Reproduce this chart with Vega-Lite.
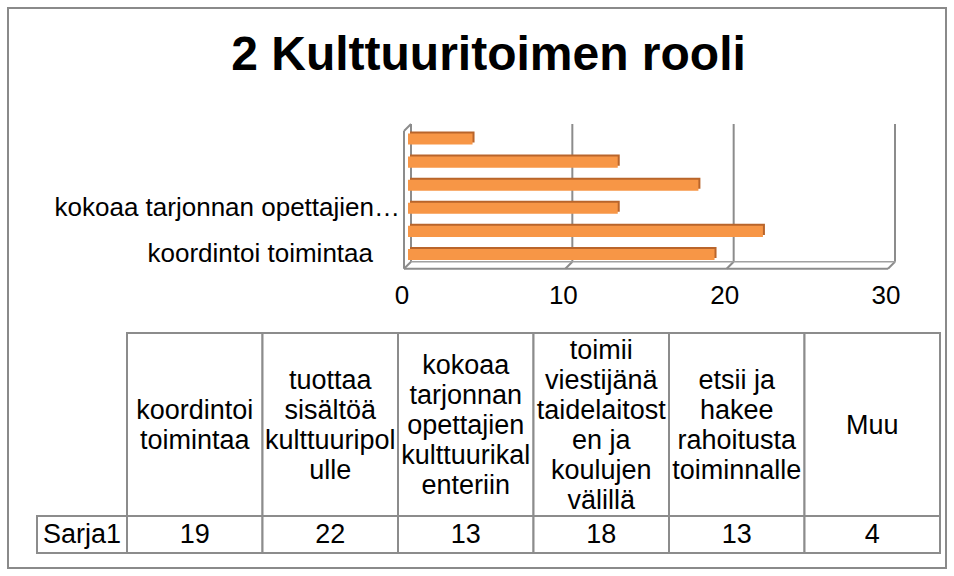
{
  "$schema": "https://vega.github.io/schema/vega-lite/v6.json",
  "width": 954,
  "height": 576,
  "autosize": {"type": "fit", "contains": "padding"},
  "padding": 8,
  "background": "white",
  "config": {
    "view": {"stroke": "#8a8a8a", "strokeWidth": 2},
    "font": "Liberation Sans",
    "text": {"font": "Liberation Sans", "color": "black"}
  },
  "datasets": {
    "roles": [
      {"rooli": "koordintoi toimintaa", "value": 19, "header": "koordintoi\ntoimintaa", "axisLabel": "koordintoi toimintaa"},
      {"rooli": "tuottaa sisältöä kulttuuripolulle", "value": 22, "header": "tuottaa\nsisältöä\nkulttuuripol\nulle", "axisLabel": ""},
      {"rooli": "kokoaa tarjonnan opettajien kulttuurikalenteriin", "value": 13, "header": "kokoaa\ntarjonnan\nopettajien\nkulttuurikal\nenteriin", "axisLabel": "kokoaa tarjonnan opettajien…"},
      {"rooli": "toimii viestijänä taidelaitosten ja koulujen välillä", "value": 18, "header": "toimii\nviestijänä\ntaidelaitost\nen ja\nkoulujen\nvälillä", "axisLabel": ""},
      {"rooli": "etsii ja hakee rahoitusta toiminnalle", "value": 13, "header": "etsii ja\nhakee\nrahoitusta\ntoiminnalle", "axisLabel": ""},
      {"rooli": "Muu", "value": 4, "header": "Muu", "axisLabel": ""}
    ],
    "ticks": [{"tick": 0}, {"tick": 10}, {"tick": 20}, {"tick": 30}],
    "one": [{"title": "2 Kulttuuritoimen rooli", "series": "Sarja1"}]
  },
  "resolve": {"scale": {"x": "independent", "y": "independent", "yOffset": "independent"}},
  "layer": [
    {
      "data": {"name": "one"},
      "mark": {"type": "text", "fontSize": 48, "fontWeight": "bold", "baseline": "middle", "align": "center"},
      "encoding": {
        "text": {"field": "title"},
        "x": {"field": "title", "type": "nominal", "axis": null, "scale": {"type": "band", "domain": ["2 Kulttuuritoimen rooli"], "range": [430, 531]}},
        "y": {"field": "title", "type": "nominal", "axis": null, "scale": {"type": "band", "domain": ["2 Kulttuuritoimen rooli"], "range": [37, 58]}}
      }
    },
    {
      "data": {"name": "ticks"},
      "mark": {"type": "rule", "color": "#8c8c8c", "strokeWidth": 2, "xOffset": 3},
      "encoding": {
        "x": {"field": "tick", "type": "quantitative", "axis": null, "scale": {"domain": [0, 30], "range": [400, 884]}},
        "y": {"datum": 1, "type": "quantitative", "axis": null, "scale": {"domain": [0, 1], "range": [253.7, 116]}},
        "y2": {"datum": 0}
      }
    },
    {
      "data": {"name": "ticks"},
      "mark": {"type": "rule", "color": "#8c8c8c", "strokeWidth": 2, "xOffset": 3, "x2Offset": -4, "y2Offset": 7},
      "encoding": {
        "x": {"field": "tick", "type": "quantitative", "axis": null, "scale": {"domain": [0, 30], "range": [400, 884]}},
        "x2": {"field": "tick"},
        "y": {"datum": 0, "type": "quantitative", "axis": null, "scale": {"domain": [0, 1], "range": [253.7, 116]}},
        "y2": {"datum": 0}
      }
    },
    {
      "data": {"name": "one"},
      "mark": {"type": "rule", "color": "#8c8c8c", "strokeWidth": 2, "xOffset": -4, "x2Offset": -4, "yOffset": 7},
      "encoding": {
        "x": {"datum": 0, "type": "quantitative", "axis": null, "scale": {"domain": [0, 30], "range": [400, 884]}},
        "x2": {"datum": 30},
        "y": {"datum": 0, "type": "quantitative", "axis": null, "scale": {"domain": [0, 1], "range": [253.7, 116]}}
      }
    },
    {
      "data": {"name": "one"},
      "mark": {"type": "rule", "color": "#a0a0a0", "strokeWidth": 1.5, "xOffset": 3, "x2Offset": 3},
      "encoding": {
        "x": {"datum": 0, "type": "quantitative", "axis": null, "scale": {"domain": [0, 30], "range": [400, 884]}},
        "x2": {"datum": 30},
        "y": {"datum": 0, "type": "quantitative", "axis": null, "scale": {"domain": [0, 1], "range": [253.7, 116]}}
      }
    },
    {
      "data": {"name": "one"},
      "mark": {"type": "rule", "color": "#8c8c8c", "strokeWidth": 2, "xOffset": -4, "yOffset": 7, "y2Offset": 7},
      "encoding": {
        "x": {"datum": 0, "type": "quantitative", "axis": null, "scale": {"domain": [0, 30], "range": [400, 884]}},
        "y": {"datum": 1, "type": "quantitative", "axis": null, "scale": {"domain": [0, 1], "range": [253.7, 116]}},
        "y2": {"datum": 0}
      }
    },
    {
      "data": {"name": "one"},
      "mark": {"type": "rule", "color": "#8c8c8c", "strokeWidth": 2, "xOffset": -4, "x2Offset": 3, "yOffset": 7},
      "encoding": {
        "x": {"datum": 0, "type": "quantitative", "axis": null, "scale": {"domain": [0, 30], "range": [400, 884]}},
        "x2": {"datum": 0},
        "y": {"datum": 1, "type": "quantitative", "axis": null, "scale": {"domain": [0, 1], "range": [253.7, 116]}},
        "y2": {"datum": 1}
      }
    },
    {
      "data": {"name": "roles"},
      "mark": {"type": "bar", "color": "#b9652b", "xOffset": 2, "yOffset": -2},
      "encoding": {
        "x": {"field": "value", "type": "quantitative", "axis": null, "scale": {"domain": [0, 30], "range": [400, 884]}},
        "y": {"field": "rooli", "type": "nominal", "axis": null, "scale": {"type": "band", "domain": ["Muu", "etsii ja hakee rahoitusta toiminnalle", "toimii viestijänä taidelaitosten ja koulujen välillä", "kokoaa tarjonnan opettajien kulttuurikalenteriin", "tuottaa sisältöä kulttuuripolulle", "koordintoi toimintaa"], "range": [119.5, 258], "paddingInner": 0.52, "paddingOuter": 0.26}}
      }
    },
    {
      "data": {"name": "roles"},
      "mark": {"type": "bar", "color": "#F79646"},
      "encoding": {
        "x": {"field": "value", "type": "quantitative", "axis": null, "scale": {"domain": [0, 30], "range": [400, 884]}},
        "y": {"field": "rooli", "type": "nominal", "axis": null, "scale": {"type": "band", "domain": ["Muu", "etsii ja hakee rahoitusta toiminnalle", "toimii viestijänä taidelaitosten ja koulujen välillä", "kokoaa tarjonnan opettajien kulttuurikalenteriin", "tuottaa sisältöä kulttuuripolulle", "koordintoi toimintaa"], "range": [119.5, 258], "paddingInner": 0.52, "paddingOuter": 0.26}}
      }
    },
    {
      "data": {"name": "roles"},
      "transform": [{"filter": "datum.rooli == 'koordintoi toimintaa'"}],
      "mark": {"type": "text", "fontSize": 26, "align": "right", "baseline": "middle", "dx": -35},
      "encoding": {
        "text": {"field": "axisLabel"},
        "x": {"datum": 0, "type": "quantitative", "axis": null, "scale": {"domain": [0, 30], "range": [400, 884]}},
        "y": {"field": "rooli", "type": "nominal", "axis": null, "scale": {"type": "band", "domain": ["Muu", "etsii ja hakee rahoitusta toiminnalle", "toimii viestijänä taidelaitosten ja koulujen välillä", "kokoaa tarjonnan opettajien kulttuurikalenteriin", "tuottaa sisältöä kulttuuripolulle", "koordintoi toimintaa"], "range": [119.5, 258], "paddingInner": 0.52, "paddingOuter": 0.26}}
      }
    },
    {
      "data": {"name": "roles"},
      "transform": [{"filter": "datum.rooli == 'kokoaa tarjonnan opettajien kulttuurikalenteriin'"}],
      "mark": {"type": "text", "fontSize": 26, "align": "right", "baseline": "middle", "dx": -8},
      "encoding": {
        "text": {"field": "axisLabel"},
        "x": {"datum": 0, "type": "quantitative", "axis": null, "scale": {"domain": [0, 30], "range": [400, 884]}},
        "y": {"field": "rooli", "type": "nominal", "axis": null, "scale": {"type": "band", "domain": ["Muu", "etsii ja hakee rahoitusta toiminnalle", "toimii viestijänä taidelaitosten ja koulujen välillä", "kokoaa tarjonnan opettajien kulttuurikalenteriin", "tuottaa sisältöä kulttuuripolulle", "koordintoi toimintaa"], "range": [119.5, 258], "paddingInner": 0.52, "paddingOuter": 0.26}}
      }
    },
    {
      "data": {"name": "ticks"},
      "mark": {"type": "text", "fontSize": 26, "align": "center", "baseline": "middle", "dx": -6},
      "encoding": {
        "text": {"field": "tick"},
        "x": {"field": "tick", "type": "quantitative", "axis": null, "scale": {"domain": [0, 30], "range": [400, 884]}},
        "y": {"datum": "axis", "type": "nominal", "axis": null, "scale": {"type": "band", "domain": ["axis"], "range": [278, 298]}}
      }
    },
    {
      "data": {"name": "roles"},
      "mark": {"type": "rect", "fill": "white", "stroke": "#8c8c8c", "strokeWidth": 2},
      "encoding": {
        "x": {"field": "rooli", "type": "nominal", "axis": null, "scale": {"type": "band", "domain": ["koordintoi toimintaa", "tuottaa sisältöä kulttuuripolulle", "kokoaa tarjonnan opettajien kulttuurikalenteriin", "toimii viestijänä taidelaitosten ja koulujen välillä", "etsii ja hakee rahoitusta toiminnalle", "Muu"], "range": [119, 932], "paddingInner": 0, "paddingOuter": 0}},
        "y": {"datum": "header", "type": "nominal", "axis": null, "scale": {"type": "band", "domain": ["header"], "range": [325, 508]}}
      }
    },
    {
      "data": {"name": "roles"},
      "transform": [{"calculate": "length(split(datum.header, '\\n'))", "as": "nLines"}],
      "mark": {"type": "text", "fontSize": 27, "lineHeight": 30, "lineBreak": "\n", "align": "center", "baseline": "middle"},
      "encoding": {
        "text": {"field": "header"},
        "x": {"field": "rooli", "type": "nominal", "axis": null, "scale": {"type": "band", "domain": ["koordintoi toimintaa", "tuottaa sisältöä kulttuuripolulle", "kokoaa tarjonnan opettajien kulttuurikalenteriin", "toimii viestijänä taidelaitosten ja koulujen välillä", "etsii ja hakee rahoitusta toiminnalle", "Muu"], "range": [119, 932], "paddingInner": 0, "paddingOuter": 0}},
        "y": {"datum": "header", "type": "nominal", "axis": null, "scale": {"type": "band", "domain": ["header"], "range": [325, 508]}},
        "yOffset": {"field": "nLines", "type": "quantitative", "scale": {"domain": [1, 6], "range": [62.5, -12.5]}}
      }
    },
    {
      "data": {"name": "roles"},
      "mark": {"type": "rect", "fill": "white", "stroke": "#8c8c8c", "strokeWidth": 2},
      "encoding": {
        "x": {"field": "rooli", "type": "nominal", "axis": null, "scale": {"type": "band", "domain": ["koordintoi toimintaa", "tuottaa sisältöä kulttuuripolulle", "kokoaa tarjonnan opettajien kulttuurikalenteriin", "toimii viestijänä taidelaitosten ja koulujen välillä", "etsii ja hakee rahoitusta toiminnalle", "Muu"], "range": [119, 932], "paddingInner": 0, "paddingOuter": 0}},
        "y": {"datum": "values", "type": "nominal", "axis": null, "scale": {"type": "band", "domain": ["values"], "range": [508, 545]}}
      }
    },
    {
      "data": {"name": "roles"},
      "mark": {"type": "text", "fontSize": 27, "align": "center", "baseline": "middle"},
      "encoding": {
        "text": {"field": "value"},
        "x": {"field": "rooli", "type": "nominal", "axis": null, "scale": {"type": "band", "domain": ["koordintoi toimintaa", "tuottaa sisältöä kulttuuripolulle", "kokoaa tarjonnan opettajien kulttuurikalenteriin", "toimii viestijänä taidelaitosten ja koulujen välillä", "etsii ja hakee rahoitusta toiminnalle", "Muu"], "range": [119, 932], "paddingInner": 0, "paddingOuter": 0}},
        "y": {"datum": "values", "type": "nominal", "axis": null, "scale": {"type": "band", "domain": ["values"], "range": [508, 545]}}
      }
    },
    {
      "data": {"name": "one"},
      "mark": {"type": "rect", "fill": "white", "stroke": "#8c8c8c", "strokeWidth": 2},
      "encoding": {
        "x": {"field": "series", "type": "nominal", "axis": null, "scale": {"type": "band", "domain": ["Sarja1"], "range": [29, 119]}},
        "y": {"datum": "values", "type": "nominal", "axis": null, "scale": {"type": "band", "domain": ["values"], "range": [508, 545]}}
      }
    },
    {
      "data": {"name": "one"},
      "mark": {"type": "text", "fontSize": 27, "align": "center", "baseline": "middle"},
      "encoding": {
        "text": {"field": "series"},
        "x": {"field": "series", "type": "nominal", "axis": null, "scale": {"type": "band", "domain": ["Sarja1"], "range": [29, 119]}},
        "y": {"datum": "values", "type": "nominal", "axis": null, "scale": {"type": "band", "domain": ["values"], "range": [508, 545]}}
      }
    }
  ]
}
